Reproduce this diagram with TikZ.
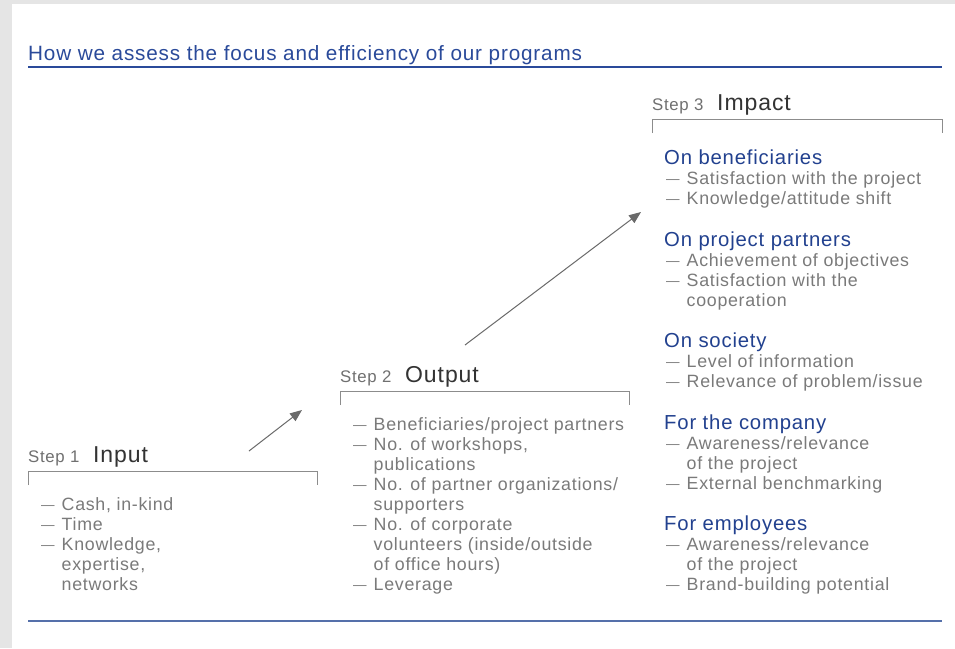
\documentclass[tikz,border=0pt]{standalone}
\usepackage{fontspec}
\setmainfont{Liberation Sans}[LetterSpace=4]
\usetikzlibrary{arrows.meta}
\definecolor{bgray}{HTML}{E5E5E5}
\definecolor{tblue}{HTML}{2A4A9A}
\definecolor{hblue}{HTML}{22418F}
\definecolor{igray}{HTML}{7A7A7A}
\definecolor{sgray}{HTML}{707070}
\definecolor{darktext}{HTML}{333333}
\definecolor{lgray}{HTML}{8C8C8C}
\definecolor{agray}{HTML}{6A6A6A}
\definecolor{lblue}{HTML}{5570AA}
\newcommand\dd{\makebox[20.5pt][l]{\fontsize{13.5}{20}\selectfont\raisebox{1pt}{—}}}
\newcommand\ii{\hspace*{20.5pt}}
\newcommand\hd[1]{\smash{\fontsize{20.3}{20}\selectfont\color{hblue}#1}}
\begin{document}
\begin{tikzpicture}[x=1pt,y=-1pt,
  titlestyle/.style={anchor=base west,inner sep=0,font=\fontsize{20.7}{22}\selectfont,text=tblue},
  stepsmall/.style={anchor=base west,inner sep=0,font=\fontsize{16.8}{20}\selectfont,text=sgray},
  stepbig/.style={anchor=base west,inner sep=0,font=\fontsize{23}{24}\selectfont,text=darktext},
  itemlist/.style={anchor=base west,inner sep=0,text=igray,font=\fontsize{17.8}{20}\selectfont},
  bracketline/.style={draw=lgray,line width=0.8pt},
  arr/.style={draw=agray,line width=1pt,-{Triangle[length=12pt,width=9.5pt]}}]
\useasboundingbox (0,0) rectangle (955,648);
\fill[bgray] (0,0) rectangle (955,648);
\fill[white] (12,4) rectangle (955,648);
% title
\node[titlestyle] (title) at (28,60) {How we assess the focus and efficiency of our programs};
\draw[tblue,line width=1.3pt] (28,67) -- (942,67);
% step 1
\node[stepsmall] (s1) at (28,462) {Step 1};
\node[stepbig] (n1) at (93,462) {Input};
\draw[bracketline] (28,485) |- (317,471) -- (317,485);
\node[itemlist] (l1) at (41,510) {\begin{tabular}[t]{@{}l@{}}
\dd Cash, in-kind\\
\dd Time\\
\dd Knowledge,\\
\ii expertise,\\
\ii networks
\end{tabular}};
% step 2
\node[stepsmall] (s2) at (340,382) {Step 2};
\node[stepbig] (n2) at (405,382) {Output};
\draw[bracketline] (340,405) |- (629,391) -- (629,405);
\node[itemlist] (l2) at (353,430) {\begin{tabular}[t]{@{}l@{}}
\dd Beneficiaries/project partners\\
\dd No. of workshops,\\
\ii publications\\
\dd No. of partner organizations/\\
\ii supporters\\
\dd No. of corporate\\
\ii volunteers (inside/outside\\
\ii of office hours)\\
\dd Leverage
\end{tabular}};
% step 3
\node[stepsmall] (s3) at (652,110) {Step 3};
\node[stepbig] (n3) at (717,110) {Impact};
\draw[bracketline] (652,133) |- (942,119) -- (942,133);
\node[itemlist] (l3) at (664,164) {\begin{tabular}[t]{@{}l@{}}
\hd{On beneficiaries}\\
\hspace*{2pt}\dd Satisfaction with the project\\
\hspace*{2pt}\dd Knowledge/attitude shift\\[22pt]
\hd{On project partners}\\
\hspace*{2pt}\dd Achievement of objectives\\
\hspace*{2pt}\dd Satisfaction with the\\
\hspace*{2pt}\ii cooperation\\[21.5pt]
\hd{On society}\\
\hspace*{2pt}\dd Level of information\\
\hspace*{2pt}\dd Relevance of problem/issue\\[22pt]
\hd{For the company}\\
\hspace*{2pt}\dd Awareness/relevance\\
\hspace*{2pt}\ii of the project\\
\hspace*{2pt}\dd External benchmarking\\[21pt]
\hd{For employees}\\
\hspace*{2pt}\dd Awareness/relevance\\
\hspace*{2pt}\ii of the project\\
\hspace*{2pt}\dd Brand-building potential
\end{tabular}};
% arrows
\coordinate (a1s) at (249,451);
\coordinate (a1e) at (302,410);
\coordinate (a2s) at (465,345);
\coordinate (a2e) at (641,212);
\draw[arr] (a1s) -- (a1e);
\draw[arr] (a2s) -- (a2e);
% bottom rule
\draw[lblue,line width=1.8pt] (28,621) -- (942,621);
\end{tikzpicture}
\end{document}
